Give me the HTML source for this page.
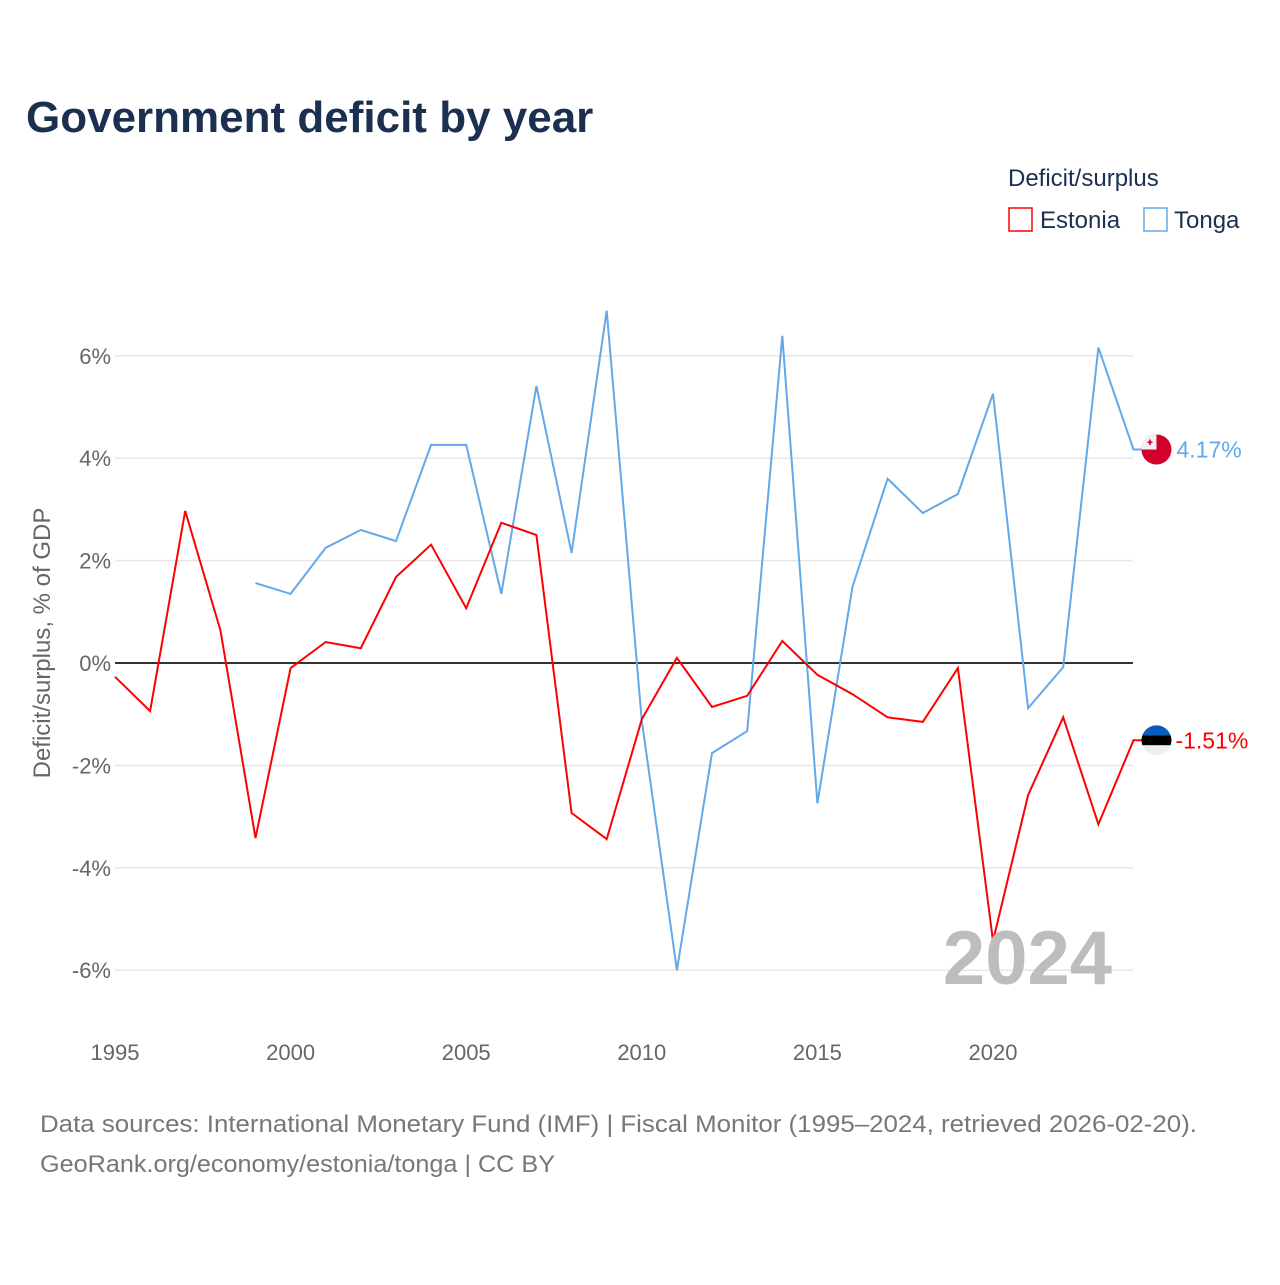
<!DOCTYPE html>
<html><head><meta charset="utf-8"><style>
body{margin:0;background:#fff;font-family:"Liberation Sans",sans-serif}
svg text{font-family:"Liberation Sans",sans-serif}
</style></head><body>
<svg id="chart" width="1280" height="1280" viewBox="0 0 1280 1280" xmlns="http://www.w3.org/2000/svg">
<rect width="1280" height="1280" fill="#fff"/>
<text x="26" y="132" font-size="44" font-weight="bold" fill="#1b3050">Government deficit by year</text>
<text x="1008" y="186" font-size="24" fill="#1b3050">Deficit/surplus</text>
<g><rect x="1009" y="208" width="23" height="23" fill="none" stroke="#f00" stroke-width="1.5"/><text x="1040" y="228" font-size="24" fill="#1b3050">Estonia</text></g>
<g><rect x="1144" y="208" width="23" height="23" fill="none" stroke="#63a8e8" stroke-width="1.5"/><text x="1174" y="228" font-size="24" fill="#1b3050">Tonga</text></g>
<g id="grid"></g><g id="axes"></g><g id="series"></g>
<text x="1112" y="984" font-size="76" font-weight="bold" fill="#bdbdbd" text-anchor="end">2024</text>
<text transform="translate(50,643) rotate(-90)" font-size="24" fill="#666" text-anchor="middle">Deficit/surplus, % of GDP</text>
<text x="40" y="1132" font-size="24" fill="#777" textLength="1157" lengthAdjust="spacingAndGlyphs">Data sources: International Monetary Fund (IMF) | Fiscal Monitor (1995–2024, retrieved 2026-02-20).</text>
<text x="40" y="1172" font-size="24" fill="#777" textLength="515" lengthAdjust="spacingAndGlyphs">GeoRank.org/economy/estonia/tonga | CC BY</text>
</svg>
<script>
const years=[1995,1996,1997,1998,1999,2000,2001,2002,2003,2004,2005,2006,2007,2008,2009,2010,2011,2012,2013,2014,2015,2016,2017,2018,2019,2020,2021,2022,2023,2024];
const estonia=[-0.27,-0.94,2.97,0.64,-3.42,-0.1,0.41,0.29,1.68,2.31,1.07,2.74,2.5,-2.93,-3.44,-1.1,0.1,-0.86,-0.64,0.43,-0.23,-0.61,-1.06,-1.15,-0.1,-5.43,-2.58,-1.06,-3.15,-1.51];
const tonga=[null,null,null,null,1.56,1.35,2.25,2.6,2.38,4.26,4.26,1.35,5.41,2.15,6.88,-1.13,-6.0,-1.76,-1.33,6.39,-2.74,1.49,3.6,2.93,3.3,5.26,-0.88,-0.08,6.16,4.17];
const yTicks=[-6,-4,-2,0,2,4,6];
const xTicks=[1995,2000,2005,2010,2015,2020];
const NS="http://www.w3.org/2000/svg";
const X=v=>115+(v-1995)*35.12;
const Y=v=>663-v*51.2;
function mk(t,a,p){const e=document.createElementNS(NS,t);for(const k in a)e.setAttribute(k,a[k]);p.appendChild(e);return e;}
const grid=document.getElementById('grid'),axes=document.getElementById('axes'),ser=document.getElementById('series');
yTicks.forEach(v=>{
 const l=mk('line',{x1:115,x2:1133,y1:Y(v),y2:Y(v),stroke:v===0?'#333':'#e6e6e6','stroke-width':v===0?2:1.5},grid);
 
 
 const t=mk('text',{x:111,y:Y(v)+8,'font-size':22,fill:'#666','text-anchor':'end'},axes);
 t.textContent=v+'%';
 
 
});
xTicks.forEach(v=>{
 const t=mk('text',{x:X(v),y:1060,'font-size':22,fill:'#666','text-anchor':'middle'},axes);
 t.textContent=v;
 
 
});
const xe=X(2024)+23;
function line(vals,color,name){
 let d='';let pen=false;let last=null;
 vals.forEach((v,i)=>{if(v===null){pen=false;return;}d+=(pen?'L':'M')+X(years[i]).toFixed(1)+' '+Y(v).toFixed(1);pen=true;last=v;});
 d+='L'+(xe-12).toFixed(1)+' '+Y(last).toFixed(1);
 const p=mk('path',{d:d,fill:'none',stroke:color,'stroke-width':2,'stroke-linejoin':'miter'},ser);
 
 
}
line(tonga,'#63a8e8','tonga-line');
line(estonia,'#f00','estonia-line');
const lastT=tonga[tonga.length-1],lastE=estonia[estonia.length-1];
const gT=mk('g',{},ser);


mk('circle',{cx:xe,cy:Y(lastT),r:15,fill:'#d2002a'},gT);
mk('path',{d:`M${xe-15} ${Y(lastT)} A15 15 0 0 1 ${xe} ${Y(lastT)-15} L${xe} ${Y(lastT)} Z`,fill:'#f2f2f2'},gT);
mk('rect',{x:xe-9,y:Y(lastT)-8,width:5,height:1.6,fill:'#d2002a'},gT);
mk('rect',{x:xe-7.3,y:Y(lastT)-10,width:1.6,height:5.5,fill:'#d2002a'},gT);
const tt=mk('text',{x:xe+20,y:Y(lastT)+8,'font-size':23,fill:'#63a8e8'},gT);tt.textContent=lastT.toFixed(2)+'%';
const gE=mk('g',{},ser);


mk('clipPath',{id:'ce'},gE);
mk('circle',{cx:xe,cy:Y(lastE),r:15},document.getElementById('ce'));
mk('rect',{x:xe-15,y:Y(lastE)-15,width:30,height:10,fill:'#0a5cba','clip-path':'url(#ce)'},gE);
mk('rect',{x:xe-15,y:Y(lastE)-5,width:30,height:10,fill:'#000','clip-path':'url(#ce)'},gE);
mk('rect',{x:xe-15,y:Y(lastE)+5,width:30,height:10,fill:'#eee','clip-path':'url(#ce)'},gE);
const te=mk('text',{x:xe+19,y:Y(lastE)+8,'font-size':23,fill:'#f00'},gE);te.textContent=lastE.toFixed(2)+'%';
</script>
</body></html>
